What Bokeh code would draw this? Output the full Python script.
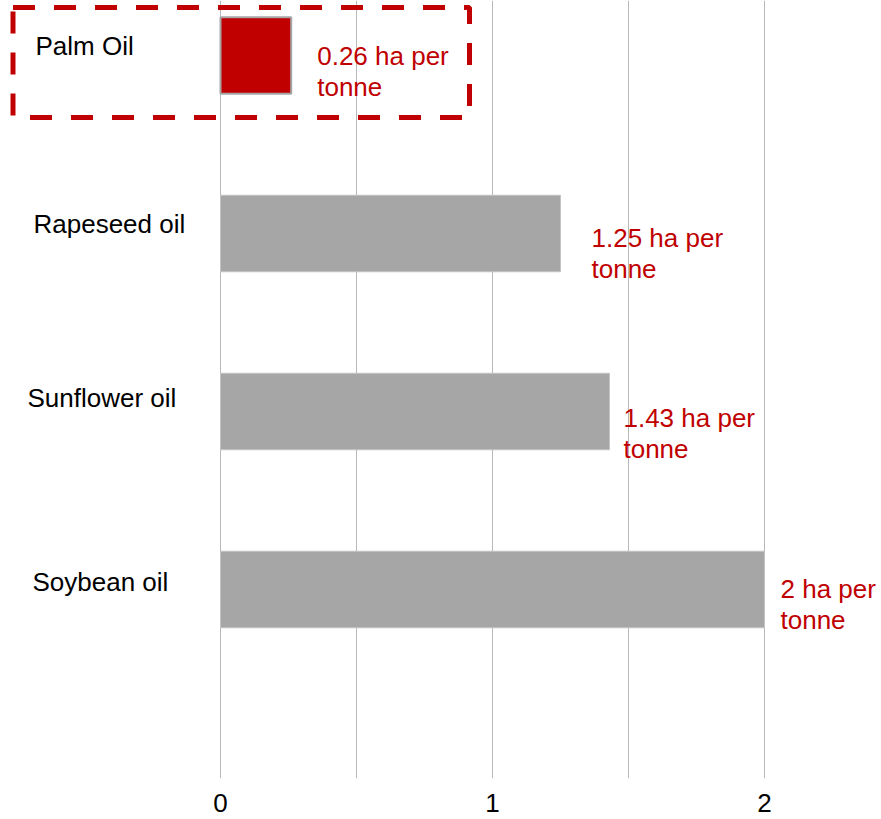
from bokeh.plotting import figure
from bokeh.models import Range1d, FixedTicker, BoxAnnotation, ColumnDataSource
from bokeh.core.properties import value
from bokeh.embed import file_html
from bokeh.resources import INLINE

# ---- data ----
categories = ["Palm Oil", "Rapeseed oil", "Sunflower oil", "Soybean oil"]
hectares_per_tonne = [0.26, 1.25, 1.43, 2.0]
value_labels = ["0.26 ha per\ntonne", "1.25 ha per\ntonne", "1.43 ha per\ntonne", "2 ha per\ntonne"]
x_ticks = [0, 1, 2]
grid_ticks = [0, 0.5, 1, 1.5, 2]

# ---- styling / layout ----
RED = "#C00000"
GREY = "#A6A6A6"
FONT = "Liberation Sans"
W, H = 881, 819
BOTTOM = 41
px_per_unit_x = 272.0
zero_x = 220.0  # canvas px of x=0
px_per_cat = 178.0
first_cat_y = 55.0  # canvas px of first category centre

pos = list(range(len(categories)))
colors = [RED] + [GREY] * (len(categories) - 1)
outline = [GREY] + ["#C4C4C4"] * (len(categories) - 1)
outline_w = [2] + [1] * (len(categories) - 1)
lab_dx = [26, 31, 14, 16]
lab_dy = [16, 20, 22, 15]
cat_dx = [3, 1, -5, 0]
cat_dy = [-10, -10, -14, -8]

frame_h = float(H - BOTTOM)
y_top = -first_cat_y / px_per_cat
y_bot = y_top + frame_h / px_per_cat

p = figure(width=W, height=H, output_backend="svg", toolbar_location=None,
           x_range=Range1d(-zero_x / px_per_unit_x, (W - zero_x) / px_per_unit_x),
           y_range=Range1d(y_bot, y_top),
           y_axis_location=None,
           min_border_left=0, min_border_right=0, min_border_top=0, min_border_bottom=BOTTOM)
p.outline_line_color = None
p.background_fill_color = "white"
p.border_fill_color = "white"
p.ygrid.grid_line_color = None
p.xgrid.ticker = FixedTicker(ticks=grid_ticks)
p.xgrid.grid_line_color = "#B8B8B8"
p.xgrid.grid_line_width = 1

ax = p.xaxis[0]
ax.ticker = FixedTicker(ticks=x_ticks)
ax.axis_line_color = None
ax.major_tick_line_color = None
ax.minor_tick_line_color = None
ax.major_tick_out = 0
ax.major_tick_in = 0
ax.major_label_standoff = 15
ax.major_label_text_font = FONT
ax.major_label_text_font_size = "26px"
ax.major_label_text_color = "#000000"

src = ColumnDataSource(dict(y=pos, v=hectares_per_tonne, c=colors, oc=outline, ow=outline_w,
                            lab=value_labels, dx=lab_dx, dy=lab_dy, cat=categories,
                            cdx=cat_dx, cdy=cat_dy))

p.hbar(y="y", left=0, right="v", height=0.43, fill_color="c", line_color="oc",
       line_width="ow", source=src)

p.text(x="v", y="y", text="lab", x_offset="dx", y_offset="dy", source=src,
       text_font=value(FONT), text_font_size="26px", text_color=RED,
       text_align="left", text_baseline="middle", text_line_height=1.03)

cat_x = (32 - zero_x) / px_per_unit_x
p.text(x=cat_x, y="y", text="cat", x_offset="cdx", y_offset="cdy", source=src,
       text_font=value(FONT), text_font_size="26px", text_color="#000000",
       text_align="left", text_baseline="middle")

# dashed highlight box around the first category
box = BoxAnnotation(left=(12.5 - zero_x) / px_per_unit_x,
                    right=(469 - zero_x) / px_per_unit_x,
                    top=pos[0] - 48 / px_per_cat, bottom=pos[0] + 62 / px_per_cat,
                    fill_alpha=0, line_color=RED, line_alpha=1.0, line_width=5,
                    line_dash="22 19")
p.add_layout(box)

open("out.html", "w").write(file_html(p, INLINE))
